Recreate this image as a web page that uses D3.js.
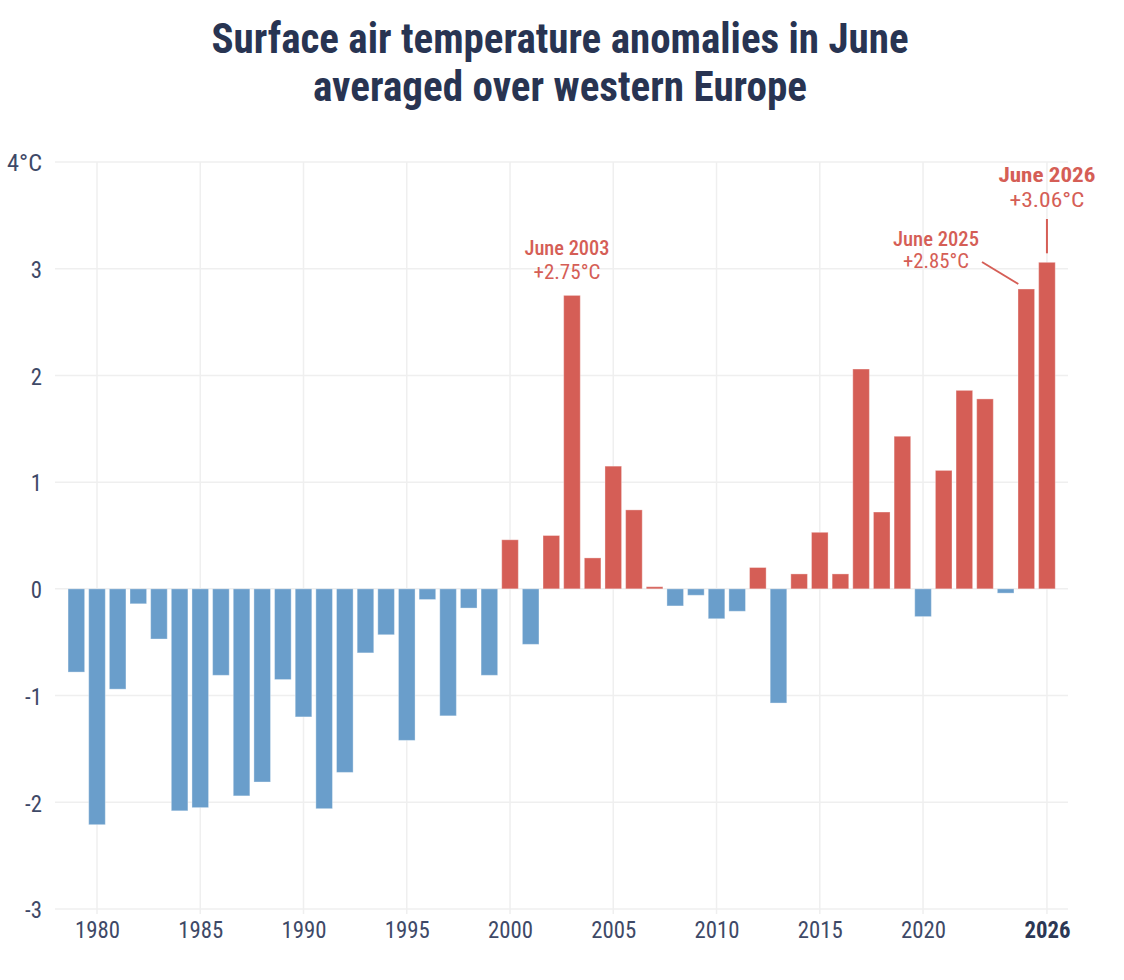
<!DOCTYPE html>
<html>
<head>
<meta charset="utf-8">
<script src="https://cdn.jsdelivr.net/npm/d3@7"></script>
<style>
  html, body { margin: 0; padding: 0; background: #ffffff; }
  svg { display: block; }
  text { font-family: "Roboto Condensed", "Roboto", "Noto Sans", sans-serif; }
</style>
</head>
<body>
<svg id="chart" width="1124" height="980"></svg>
<script>
// ---------- data ----------
const years = [1979,1980,1981,1982,1983,1984,1985,1986,1987,1988,1989,
  1990,1991,1992,1993,1994,1995,1996,1997,1998,1999,
  2000,2001,2002,2003,2004,2005,2006,2007,2008,2009,
  2010,2011,2012,2013,2014,2015,2016,2017,2018,2019,
  2020,2021,2022,2023,2024,2025,2026];
const anomalies = [-0.78,-2.21,-0.94,-0.14,-0.47,-2.08,-2.05,-0.81,-1.94,-1.81,-0.85,
  -1.20,-2.06,-1.72,-0.60,-0.43,-1.42,-0.10,-1.19,-0.18,-0.81,
  0.46,-0.52,0.50,2.75,0.29,1.15,0.74,0.02,-0.16,-0.06,
  -0.28,-0.21,0.20,-1.07,0.14,0.53,0.14,2.06,0.72,1.43,
  -0.26,1.11,1.86,1.78,-0.04,2.81,3.06];
const yTicks = [-3,-2,-1,0,1,2,3,4];
const yTickLabels = ["-3","-2","-1","0","1","2","3","4°C"];
const xTicks = [1980,1985,1990,1995,2000,2005,2010,2015,2020,2026];
const titleLines = ["Surface air temperature anomalies in June", "averaged over western Europe"];
const annotations = [
  {year: 2003, line1: "June 2003", line2: "+2.75°C"},
  {year: 2025, line1: "June 2025", line2: "+2.85°C"},
  {year: 2026, line1: "June 2026", line2: "+3.06°C"}
];

// ---------- style ----------
const RED = "#d55e56", BLUE = "#6a9ecb", NAVY = "#283452", TICK = "#3e4967", GRID = "#efefef";

const svg = d3.select("#chart");
const x = d3.scaleLinear().domain([1978, 2027]).range([55.7, 1067.6]);
const y = d3.scaleLinear().domain([-3, 4]).range([909, 162]);
const barW = 16.6;
const left = 55, right = 1068;
const valueOf = yr => anomalies[years.indexOf(yr)];

function fitWidth(sel, target) {
  sel.attr("textLength", target).attr("lengthAdjust", "spacingAndGlyphs");
}
function scaleText(sel, factor) {
  sel.each(function() {
    const w = this.getComputedTextLength();
    d3.select(this).attr("textLength", w * factor).attr("lengthAdjust", "spacingAndGlyphs");
  });
}

// ---------- title ----------
const tw = [697, 494];
titleLines.forEach((t, i) => {
  svg.append("text")
    .attr("x", 560).attr("y", 53 + i * 48)
    .attr("text-anchor", "middle")
    .attr("font-size", 42).attr("font-weight", 700)
    .attr("fill", NAVY)
    .text(t)
    .call(fitWidth, tw[i]);
});

// ---------- grid ----------
const grid = svg.append("g");
grid.selectAll("line.h").data(yTicks).join("line")
  .attr("x1", left).attr("x2", right)
  .attr("y1", d => y(d)).attr("y2", d => y(d))
  .attr("stroke", GRID).attr("stroke-width", 1.5);
grid.selectAll("line.v").data(xTicks).join("line")
  .attr("x1", d => x(d)).attr("x2", d => x(d))
  .attr("y1", y(4)).attr("y2", y(-3) + 5)
  .attr("stroke", GRID).attr("stroke-width", 1.5);

// ---------- axes (labels) ----------
const yAxis = svg.append("g")
  .attr("transform", `translate(${left},0)`)
  .call(d3.axisLeft(y).tickValues(yTicks).tickSize(0).tickPadding(13)
    .tickFormat((d, i) => yTickLabels[i]));
yAxis.select(".domain").remove();
yAxis.attr("font-size", null).attr("font-family", null);

const xAxis = svg.append("g")
  .attr("transform", `translate(0,${y(-3)})`)
  .call(d3.axisBottom(x).tickValues(xTicks).tickSize(0).tickPadding(13)
    .tickFormat(d3.format("d")));
xAxis.select(".domain").remove();
xAxis.attr("font-size", null).attr("font-family", null);

const xt = xAxis.selectAll("text")
  .attr("font-size", 23)
  .attr("font-weight", d => d === 2026 ? 700 : 400)
  .attr("fill", d => d === 2026 ? "#2c3754" : TICK);
const yt = yAxis.selectAll("text")
  .attr("font-size", 23).attr("fill", TICK)
  .attr("dy", "0.38em");

// condensation factor so that a 4-digit year label is ~45px wide
const natural = xt.filter(d => d === 1980).node().getComputedTextLength();
const factor = Math.min(1, 45 / natural);
xt.call(scaleText, factor);
yt.filter(d => d !== 4).call(scaleText, factor);
yt.filter(d => d === 4).call(fitWidth, 35);

// ---------- bars ----------
const data = years.map((yr, i) => ({year: yr, v: anomalies[i]}));
svg.append("g").selectAll("rect").data(data).join("rect")
  .attr("x", d => x(d.year) - barW / 2)
  .attr("width", barW)
  .attr("y", d => y(Math.max(0, d.v)))
  .attr("height", d => Math.abs(y(d.v) - y(0)))
  .attr("fill", d => d.v >= 0 ? RED : BLUE)
  .attr("stroke", "#ffffff").attr("stroke-opacity", 0.35).attr("stroke-width", 1);

// ---------- annotations ----------
const ann = svg.append("g").attr("fill", RED);
const [a2003, a2025, a2026] = annotations;

ann.append("text").attr("x", x(a2003.year) - 5).attr("y", 255)
  .attr("text-anchor", "middle").attr("font-size", 19.5).attr("font-weight", 500)
  .text(a2003.line1).call(fitWidth, 85);
ann.append("text").attr("x", x(a2003.year) - 5).attr("y", 279)
  .attr("text-anchor", "middle").attr("font-size", 19.5)
  .text(a2003.line2).call(fitWidth, 67);

ann.append("text").attr("x", 936).attr("y", 246)
  .attr("text-anchor", "middle").attr("font-size", 19.5).attr("font-weight", 500)
  .text(a2025.line1).call(fitWidth, 86);
ann.append("text").attr("x", 936).attr("y", 268)
  .attr("text-anchor", "middle").attr("font-size", 19.5)
  .text(a2025.line2).call(fitWidth, 66);
ann.append("line")
  .attr("x1", 982).attr("y1", 262)
  .attr("x2", x(a2025.year) - 8).attr("y2", y(valueOf(a2025.year)) - 5)
  .attr("stroke", RED).attr("stroke-width", 2);

ann.append("text").attr("x", x(a2026.year)).attr("y", 182)
  .attr("text-anchor", "middle").attr("font-size", 21).attr("font-weight", 700)
  .text(a2026.line1).call(fitWidth, 97);
ann.append("text").attr("x", x(a2026.year)).attr("y", 207)
  .attr("text-anchor", "middle").attr("font-size", 21)
  .text(a2026.line2).call(fitWidth, 75);
ann.append("line")
  .attr("x1", x(a2026.year)).attr("x2", x(a2026.year))
  .attr("y1", 219).attr("y2", y(valueOf(a2026.year)) - 9)
  .attr("stroke", RED).attr("stroke-width", 2);
</script>
</body>
</html>
